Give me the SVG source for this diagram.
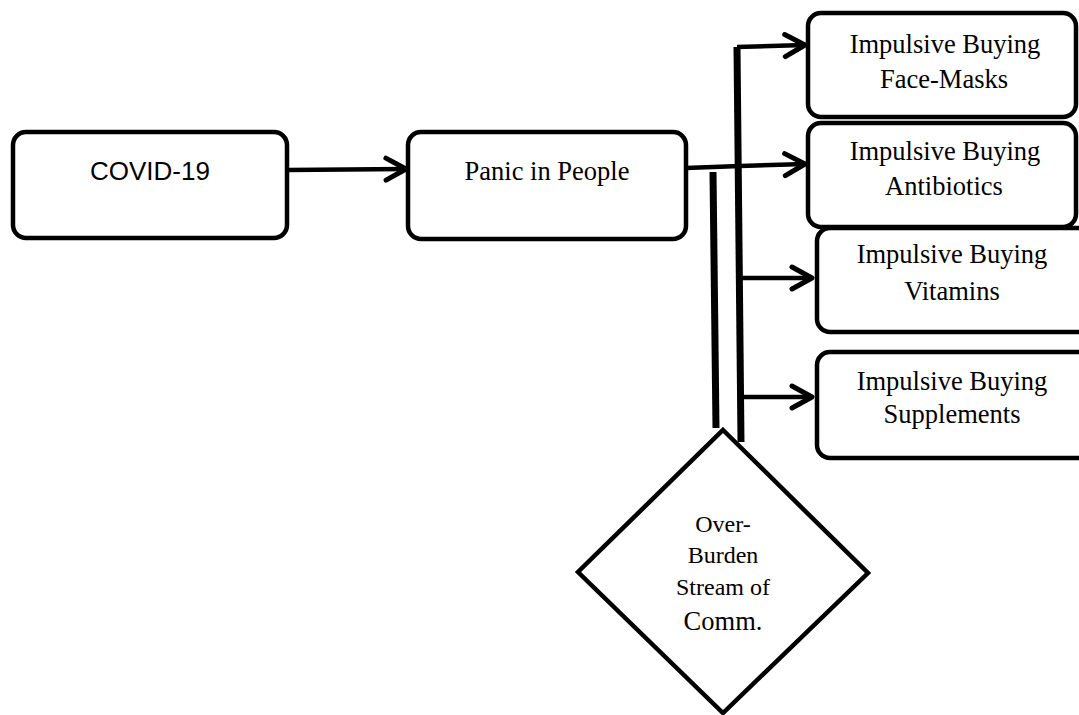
<svg xmlns="http://www.w3.org/2000/svg" width="1079" height="715" viewBox="0 0 1079 715">
<defs>
<marker id="arr" markerUnits="userSpaceOnUse" markerWidth="30" markerHeight="30" refX="22" refY="12" orient="auto" overflow="visible">
<path d="M2,1 L22,12 L2,23" fill="none" stroke="#000" stroke-width="5" stroke-linecap="round" stroke-linejoin="round"/>
</marker>
</defs>
<style>
.box{fill:#fff;stroke:#000;stroke-width:4.5}
.conn{fill:none;stroke:#000;stroke-width:4.5}
.thick{fill:none;stroke:#000;stroke-width:7}
.t{font-family:"Liberation Serif","Times New Roman",serif;font-size:26.5px;fill:#000;text-anchor:middle}
.a{font-family:"Liberation Sans",Arial,sans-serif;font-size:26px;fill:#000;text-anchor:middle}
.d{font-family:"Liberation Serif","Times New Roman",serif;font-size:24px;fill:#000;text-anchor:middle}
</style>
<rect width="1079" height="715" fill="#fff"/>
<g id="connectors">
<line class="conn" x1="287" y1="170" x2="406" y2="169" marker-end="url(#arr)"/>
<polyline class="conn" points="686,168 740,166 805,164" marker-end="url(#arr)"/>
<line class="thick" x1="713" y1="172" x2="716" y2="428"/>
<polyline class="thick" points="741,442 737,47"/>
<line class="conn" x1="737" y1="47" x2="805" y2="45" marker-end="url(#arr)"/>
<line class="conn" x1="740" y1="278" x2="812" y2="278" marker-end="url(#arr)"/>
<line class="conn" x1="740" y1="397" x2="812" y2="397" marker-end="url(#arr)"/>
</g>
<g id="covid">
<rect class="box" x="13" y="132" width="274" height="106" rx="13"/>
<text class="a" x="150" y="180">COVID-19</text>
</g>
<g id="panic">
<rect class="box" x="408" y="132" width="278" height="107" rx="13"/>
<text class="t" x="547" y="180">Panic in People</text>
</g>
<g id="facemasks">
<rect class="box" x="808" y="13" width="268" height="104" rx="13"/>
<text class="t" x="945" y="53">Impulsive Buying</text>
<text class="t" x="944" y="88">Face-Masks</text>
</g>
<g id="antibiotics">
<rect class="box" x="808" y="123" width="268" height="104" rx="13"/>
<text class="t" x="945" y="160">Impulsive Buying</text>
<text class="t" x="944" y="195">Antibiotics</text>
</g>
<g id="vitamins">
<rect class="box" x="817" y="228" width="275" height="104" rx="13"/>
<text class="t" x="952" y="263">Impulsive Buying</text>
<text class="t" x="952" y="300">Vitamins</text>
</g>
<g id="supplements">
<rect class="box" x="817" y="352" width="275" height="106" rx="13"/>
<text class="t" x="952" y="390">Impulsive Buying</text>
<text class="t" x="952" y="423">Supplements</text>
</g>
<g id="overburden">
<polygon class="box" points="723,430 868,573 723,713 578,572"/>
<text class="d" x="723" y="532">Over-</text>
<text class="d" x="723" y="563">Burden</text>
<text class="d" x="723" y="595">Stream of</text>
<text class="t" x="723" y="630">Comm.</text>
</g>
</svg>
